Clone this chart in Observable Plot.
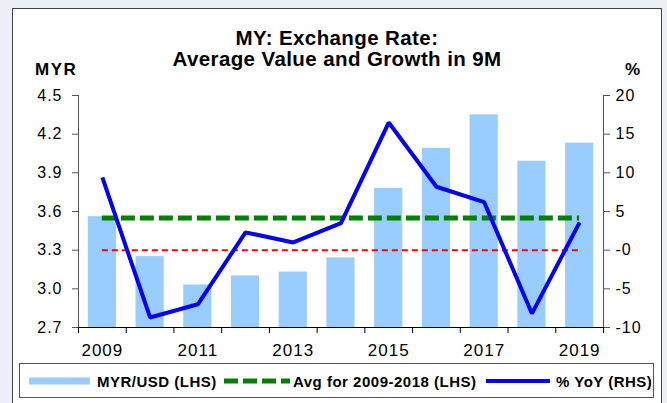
<!DOCTYPE html>
<html><head><meta charset="utf-8">
<script src="https://cdn.jsdelivr.net/npm/d3@7"></script>
<script src="https://cdn.jsdelivr.net/npm/@observablehq/plot@0.6"></script>
<style>
html,body{margin:0;padding:0;background:#eef0f8;width:667px;height:403px;overflow:hidden;font-family:"Liberation Sans",Arial,sans-serif;}
#frame{position:absolute;left:12px;top:8px;width:648px;height:400px;border:1px solid #444;background:#fff;}
#chart{position:absolute;left:0;top:0;}
#overlay{position:absolute;left:0;top:0;}
#chart svg text{letter-spacing:1px;}
</style></head><body>
<div id="frame"></div>
<div id="chart"></div>
<div id="overlay"></div>
<script>
// ---- data ----
const years = [2009, 2010, 2011, 2012, 2013, 2014, 2015, 2016, 2017, 2018, 2019];
const myrUsd = [3.56, 3.25, 3.03, 3.10, 3.13, 3.24, 3.78, 4.09, 4.35, 3.99, 4.13];
const yoyPct = [9.4, -8.7, -7.0, 2.3, 1.0, 3.5, 16.5, 8.2, 6.2, -8.2, 3.6];
const avg2009to2018 = 3.55;
const leftTicks = [2.7, 3.0, 3.3, 3.6, 3.9, 4.2, 4.5];
const rightTicks = [-10, -5, 0, 5, 10, 15, 20];
const yearLabels = [2009, 2011, 2013, 2015, 2017, 2019];
const titleLines = ["MY: Exchange Rate:", "Average Value and Growth in 9M"];
const legendLabels = ["MYR/USD (LHS)", "Avg for 2009-2018 (LHS)", "% YoY (RHS)"];

// ---- helpers ----
const yMin = leftTicks[0], yMax = leftTicks[leftTicks.length - 1];
const rMin = rightTicks[0], rMax = rightTicks[rightTicks.length - 1];
const toLeft = v => yMin + (v - rMin) / (rMax - rMin) * (yMax - yMin);
const fromLeft = y => Math.round(rMin + (y - yMin) / (yMax - yMin) * (rMax - rMin));
const xLo = years[0] - 0.5, xHi = years[years.length - 1] + 0.5;
const bounds = d3.range(years.length + 1).map(i => xLo + i);
const halfBar = 0.295;
const rows = years.map((y, i) => ({year: y, value: myrUsd[i], yoy: yoyPct[i]}));

const blue = "#0000ff", green = "#008000", red = "#ff0000", barFill = "#99ccff";

const chart = Plot.plot({
  width: 667, height: 403,
  marginLeft: 78, marginRight: 64, marginTop: 95, marginBottom: 76,
  style: {background: "transparent", fontFamily: "'Liberation Sans', Arial, sans-serif", color: "#000"},
  x: {type: "linear", domain: [xLo, xHi], axis: null},
  y: {domain: [yMin, yMax], axis: null},
  marks: [
    Plot.rectY(rows, {x1: d => d.year - halfBar, x2: d => d.year + halfBar, y1: () => yMin, y2: "value", fill: barFill}),
    Plot.ruleY([toLeft(0)], {x1: () => years[0], x2: () => years[years.length - 1], stroke: red, strokeWidth: 2, strokeDasharray: "6,4"}),
    Plot.ruleY([avg2009to2018], {x1: () => years[0], x2: () => years[years.length - 1], stroke: green, strokeWidth: 5, strokeDasharray: "14,5"}),
    Plot.line(rows, {x: "year", y: d => toLeft(d.yoy), stroke: blue, strokeWidth: 4, strokeLinejoin: "miter", strokeLinecap: "butt"}),
    Plot.ruleX([xLo], {y1: () => yMin, y2: () => yMax, stroke: "#555"}),
    Plot.ruleX([xHi], {y1: () => yMin, y2: () => yMax, stroke: "#555"}),
    Plot.ruleY([yMin], {x1: () => xLo, x2: () => xHi, stroke: "#000"}),
    Plot.axisY(leftTicks, {anchor: "left", label: null, tickSize: 6, tickPadding: 10, tickFormat: d => d.toFixed(1), fontSize: 16, stroke: "#555", fill: "#000"}),
    Plot.axisY(rightTicks.map(toLeft), {anchor: "right", label: null, tickSize: 6, tickPadding: 6, tickFormat: fromLeft, fontSize: 16, stroke: "#555", fill: "#000"}),
    Plot.axisX(bounds, {anchor: "bottom", label: null, tickSize: 6, tickFormat: () => "", stroke: "#000"}),
    Plot.axisX(yearLabels, {anchor: "bottom", label: null, tickSize: 0, tickPadding: 16, tickFormat: d => String(d), fontSize: 17, fill: "#000"})
  ]
});
document.getElementById("chart").appendChild(chart);

// ---- titles and legend ----
const svg = d3.select("#overlay").append("svg").attr("width", 667).attr("height", 403)
  .style("font-family", "'Liberation Sans', Arial, sans-serif");
svg.append("text").attr("x", 337).attr("y", 45).attr("text-anchor", "middle")
  .attr("font-weight", "bold").attr("font-size", 20.5).style("letter-spacing", "0.4px").text(titleLines[0]);
svg.append("text").attr("x", 337).attr("y", 66).attr("text-anchor", "middle")
  .attr("font-weight", "bold").attr("font-size", 20.5).style("letter-spacing", "0.4px").text(titleLines[1]);
svg.append("text").attr("x", 35).attr("y", 75).attr("font-weight", "bold").attr("font-size", 17)
  .style("letter-spacing", "1.5px").text("MYR");
svg.append("text").attr("x", 625).attr("y", 75).attr("font-weight", "bold").attr("font-size", 17).text("%");

// legend box
svg.append("rect").attr("x", 19.5).attr("y", 363.5).attr("width", 634).attr("height", 34)
  .attr("fill", "#fff").attr("stroke", "#555");
svg.append("rect").attr("x", 29).attr("y", 377.5).attr("width", 61).attr("height", 7).attr("fill", barFill);
svg.append("line").attr("x1", 224).attr("x2", 290).attr("y1", 381).attr("y2", 381)
  .attr("stroke", green).attr("stroke-width", 5).attr("stroke-dasharray", "14,5");
svg.append("line").attr("x1", 486).attr("x2", 550).attr("y1", 381).attr("y2", 381)
  .attr("stroke", blue).attr("stroke-width", 4);
const lx = [97, 293, 556];
legendLabels.forEach((t, i) => {
  svg.append("text").attr("x", lx[i]).attr("y", 386.5).attr("font-weight", "bold").attr("font-size", 15)
    .style("letter-spacing", "0.5px").text(t);
});
</script>
</body></html>
